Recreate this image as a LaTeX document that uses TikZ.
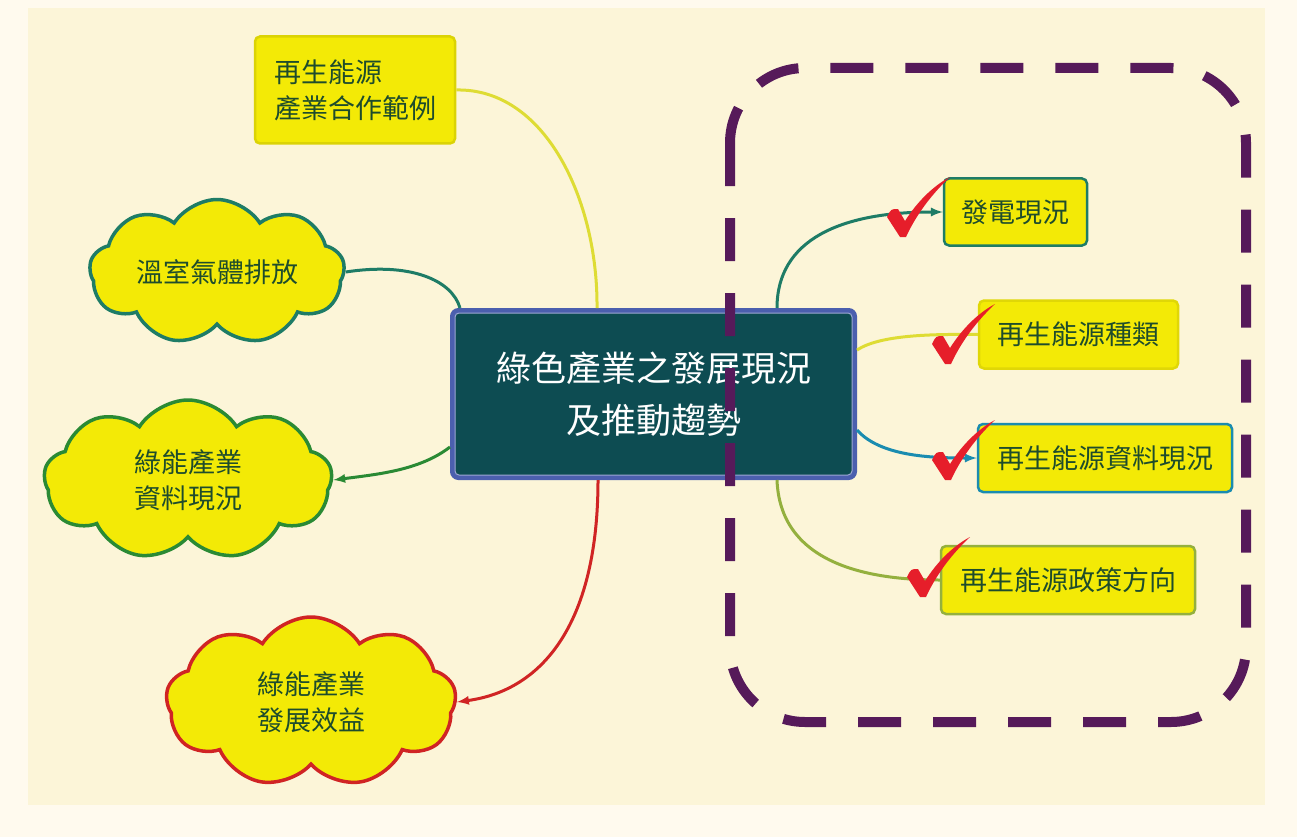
\documentclass[tikz,border=0pt]{standalone}
\usepackage{fontspec}
\newfontfamily\cjk{Noto Sans CJK TC}
\usetikzlibrary{shapes.symbols}

\definecolor{pagebg}{HTML}{FFFAEE}
\definecolor{mapbg}{HTML}{FCF5D8}
\definecolor{leafyellow}{HTML}{F3EA06}
\definecolor{leaftext}{HTML}{1E4C2C}
\definecolor{hubfill}{HTML}{0D4C52}
\definecolor{hubline}{HTML}{4B5FAE}
\definecolor{ringpurple}{HTML}{561A5A}
\definecolor{tickred}{HTML}{E61E2A}
\definecolor{tealline}{HTML}{1E7C66}
\definecolor{greenline}{HTML}{2A8A34}
\definecolor{redline}{HTML}{D02424}
\definecolor{yline}{HTML}{DEDC34}
\definecolor{blueline}{HTML}{1A8CB0}
\definecolor{oliveline}{HTML}{94B03E}

\begin{document}
\begin{tikzpicture}[>=latex,x=1pt,y=-1pt,
    leaf/.style={font=\cjk\fontsize{27}{36}\selectfont,text=leaftext,fill=leafyellow,inner sep=0pt},
    leafbox/.style={leaf,rounded corners=5pt,line width=2.5pt},
    leafcloud/.style={leaf,cloud,cloud puffs=9,cloud puff arc=115,cloud ignores aspect,line width=3.5pt},
    link/.style={line width=3pt}]
    \useasboundingbox (0,0) rectangle (1297,837);
    \fill[pagebg] (0,0) rectangle (1297,837);
    \fill[mapbg] (28,8) rectangle (1265,805);

    % centre
    \node[draw=hubline,fill=hubfill,line width=5pt,rounded corners=6pt,minimum width=402pt,minimum height=167pt,
        text=white,align=center,font=\cjk\fontsize{35}{52}\selectfont] (hub) at (653.5,394) {綠色產業之發展現況\\及推動趨勢};
    \draw[hubline!55!white,line width=1pt,rounded corners=4pt] ([xshift=5pt,yshift=-5pt]hub.north west) rectangle ([xshift=-5pt,yshift=5pt]hub.south east);

    % left side
    \node[leafbox,draw=leafyellow!90!black,minimum width=200pt,minimum height=107pt,align=left] (coop) at (355,90) {再生能源\\產業合作範例};
    \node[leafcloud,draw=tealline,minimum width=255pt,minimum height=145pt] (ghg) at (217,272) {溫室氣體排放};
    \node[leafcloud,draw=greenline,minimum width=288pt,minimum height=160pt,align=center] (greendata) at (188,480) {綠能產業\\資料現況};
    \node[leafcloud,draw=redline,minimum width=290pt,minimum height=170pt,align=center] (benefit) at (311,702) {綠能產業\\發展效益};

    % right side
    \node[leafbox,draw=tealline,minimum width=143pt,minimum height=67pt] (power) at (1015.5,212) {發電現況};
    \node[leafbox,draw=leafyellow!92!black,minimum width=199pt,minimum height=68pt] (kinds) at (1078.5,334.5) {再生能源種類};
    \node[leafbox,draw=blueline,minimum width=254pt,minimum height=68pt] (renewdata) at (1105,458) {再生能源資料現況};
    \node[leafbox,draw=oliveline,minimum width=254pt,minimum height=68pt] (policy) at (1068,580) {再生能源政策方向};

    \draw[link,yline] (coop.east) .. controls (545,88) and (598,200) .. ([xshift=147pt]hub.north west);
    \draw[link,tealline] (ghg.east) .. controls (410,262) and (452,280) .. ([xshift=10pt]hub.north west);
    \draw[link,greenline,->] ([yshift=-53pt]hub.west) .. controls (420,470) and (380,474) .. (greendata.east);
    \draw[link,redline,->] ([xshift=148pt]hub.south west) .. controls (598,620) and (545,690) .. (benefit.east);

    \draw[link,tealline,->] ([xshift=-80pt]hub.north east) .. controls (777,240) and (840,212) .. (power.west);
    \draw[link,yline] ([yshift=44pt]hub.east) .. controls (880,335) and (930,334) .. (kinds.west);
    \draw[link,blueline,->] ([yshift=-36pt]hub.east) .. controls (880,456) and (930,458) .. (renewdata.west);
    \draw[link,oliveline] ([xshift=-80pt]hub.south east) .. controls (780,560) and (860,580) .. (policy.west);

    % ticks
    \tikzset{redtick/.pic={
        \fill[tickred] (-16,-18) .. controls (-12,-26) .. (-5,-26) -- (2,-14)
            .. controls (14,-33) and (30,-49) .. (47,-58)
            .. controls (30,-42) and (14,-22) .. (3,2) -- (-3,2) -- cycle;}}
    \pic at (903,235) {redtick};
    \pic at (948,362) {redtick};
    \pic at (948,478) {redtick};
    \pic at (923,595) {redtick};

    \draw[ringpurple,line width=10pt,dash pattern=on 43pt off 32pt,rounded corners=75pt] (730,68) rectangle (1246,722);
\end{tikzpicture}
\end{document}
